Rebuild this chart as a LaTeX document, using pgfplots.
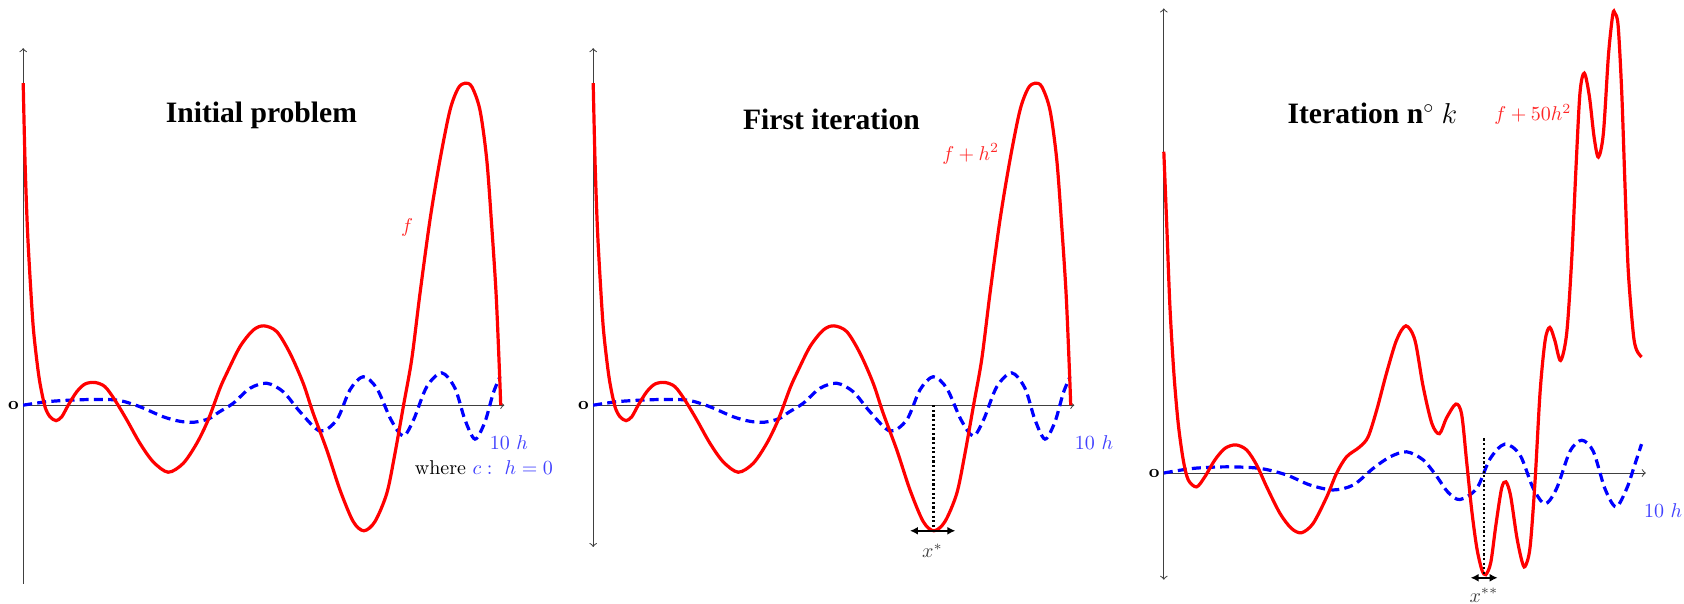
\documentclass[border=0pt]{standalone}
\usepackage{fontspec}
\usepackage{pgfplots}
\usepackage{pgfplotstable}
\pgfplotsset{compat=1.18}
\usetikzlibrary{arrows.meta}
\newfontfamily\timesfont{Liberation Serif}

\pgfplotstableread{
x y
0 836
5 637
11.6 463
19 334
28 204
38 117
47 57
61 -4
75 -30
92 -40
108 -30
126 0
150 35
173 55
201 59
229 48
257 13
290 -38
327 -99
364 -147
406 -174
448 -151
486 -99
518 -38
551 44
570 83
607 152
644 195
674 206
710 191
747 135
784 57
812 -21
850 -116
887 -220
924 -302
954 -326
985 -302
1018 -229
1040 -130
1065 0
1088 120
1111 290
1139 481
1167 637
1195 766
1218 823
1237 836
1256 827
1279 766
1298 637
1312 463
1324 291
1333 100
1337 0
}\redA

\pgfplotstableread{
x y
0 0
66 9
140 13.5
219 15
271 12
327 -4
392 -30
440 -42
480 -44
520 -35
548 -18
588 5
635 44
682 57
728 35
775 -17
831 -67
878 -38
915 40
952 74
990 44
1030 -38
1064 -80
1093 -38
1130 48
1172 84
1209 44
1237 -38
1265 -88
1293 -43
1316 31
1335 74
}\blueA

\pgfplotstableread{
x y
0 834
8 648
17 432
28 259
40 129
54 34
68 -18
91 -36
114 -10
142 34
170 64
200 73
230 60
258 21
286 -36
323 -105
355 -144
383 -155
415 -131
453 -62
480 -1
508 42
545 68
568 94
592 164
619 259
647 345
673 382
698 345
721 224
745 129
766 102
786 143
812 179
828 152
842 28
856 -97
870 -194
884 -251
895 -264
909 -232
923 -136
939 -40
951 -23
964 -59
981 -165
995 -227
1004 -243
1018 -194
1032 -21
1046 210
1060 344
1073 378
1087 344
1103 292
1120 363
1134 556
1146 796
1157 988
1169 1038
1183 978
1196 873
1208 820
1222 882
1236 1084
1248 1190
1254 1194
1263 1161
1273 988
1282 748
1291 527
1305 363
1314 320
1328 301
}\redC

\pgfplotstableread{
x y
0 0
82 12
175 16
267 12
341 -5
406 -31
471 -44
527 -31
582 12
629 42
675 55
721 34
758 -8
790 -50
823 -69
870 -40
907 37
948 75
990 47
1027 -40
1060 -80
1092 -40
1129 56
1162 85
1194 56
1226 -40
1257 -88
1287 -40
1308 18
1328 75
}\blueC

\pgfplotsset{
  panel/.style={anchor=origin, axis lines=middle, ticks=none, clip=false,
    enlargelimits=false, xmin=0,
    axis line style={black!75, line width=0.5pt}},
  fcurve/.style={red, line width=1.6pt, smooth, no markers},
  hcurve/.style={blue, line width=1.6pt, dash pattern=on 4.5pt off 2.6pt, smooth, no markers},
}
\tikzset{titlef/.style={font=\timesfont\bfseries\fontsize{14.8}{17}\selectfont}}

\begin{document}
\begin{tikzpicture}
\useasboundingbox (0,0) rectangle (842pt,-302pt);

% Panel 1
\begin{axis}[panel, at={(11.6pt,-202.6pt)}, x=0.178571pt, y=0.192604pt,
  xmax=1347, ymin=-463, ymax=927,
  x axis line style={-to}, y axis line style={-to}]
\addplot[hcurve] table {\blueA};
\addplot[fcurve] table {\redA};
\node[titlef] at (667,752) {Initial problem};
\node[red!85] at (1075,462) {$f$};
\node[blue!75] at (1360,-96) {$10\ h$};
\node at (1290,-163) {where \textcolor{blue!75}{$c:\ h=0$}};
\node[anchor=east, inner sep=2pt, font=\small\bfseries] at (0,0) {o};
\end{axis}

% Panel 2
\begin{axis}[panel, at={(296.6pt,-202.6pt)}, x=0.178571pt, y=0.192604pt,
  xmax=1347, ymin=-368, ymax=927,
  x axis line style={-to}, y axis line style={to-to}]
\addplot[hcurve] table {\blueA};
\addplot[fcurve] table {\redA};
\draw[black, line width=1.1pt, dash pattern=on 1.1pt off 1.2pt] (953,0) -- (953,-318);
\draw[{Latex[length=4pt,width=4pt]}-{Latex[length=4pt,width=4pt]}, line width=1.2pt] (887,-326) -- (1014,-326);
\node[titlef] at (667,742) {First iteration};
\node[red!85] at (1057,652) {$f+h^2$};
\node[blue!75] at (1402,-98) {$10\ h$};
\node[black!75] at (950,-378) {$x^{*}$};
\node[anchor=east, inner sep=2pt, font=\small\bfseries] at (0,0) {o};
\end{axis}

% Panel 3
\begin{axis}[panel, at={(581.9pt,-236.5pt)}, x=0.179856pt, y=0.192604pt,
  xmax=1340, ymin=-277, ymax=1206,
  x axis line style={-to}, y axis line style={to-to}]
\addplot[hcurve] table {\blueC};
\addplot[fcurve] table {\redC};
\draw[black, line width=1.1pt, dash pattern=on 1.1pt off 1.2pt] (889,90) -- (889,-262);
\draw[{Latex[length=4pt,width=4pt]}-{Latex[length=4pt,width=4pt]}, line width=1.2pt] (853,-272) -- (928,-272);
\node[titlef] at (580,933) {Iteration n$^\circ$ $k$};
\node[red!85] at (1026,930) {$f+50h^2$};
\node[blue!75] at (1388,-97) {$10\ h$};
\node[black!75] at (890,-317) {$x^{**}$};
\node[anchor=east, inner sep=2pt, font=\small\bfseries] at (0,0) {o};
\end{axis}
\end{tikzpicture}
\end{document}
